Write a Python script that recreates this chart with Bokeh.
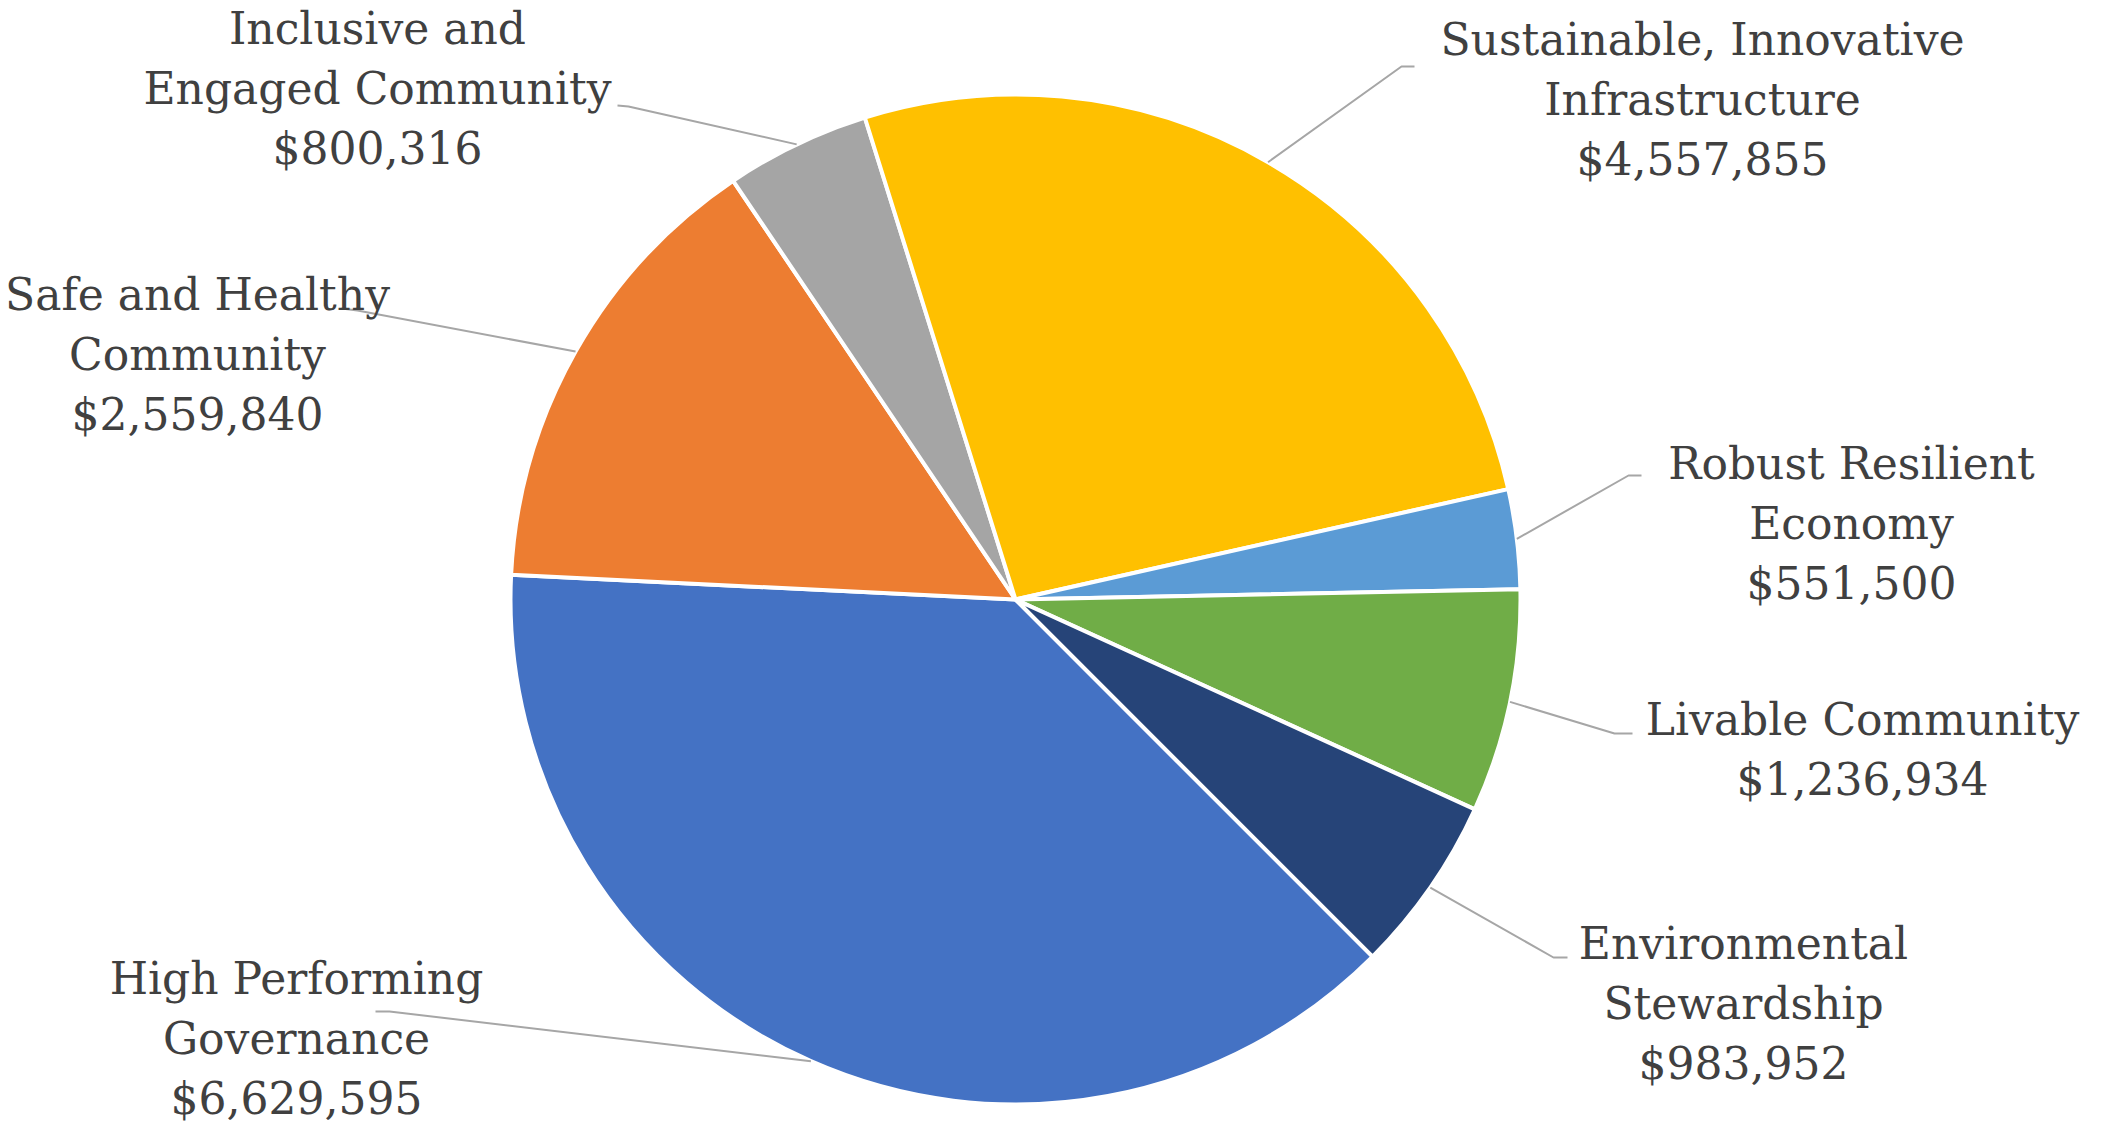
import math
from bokeh.plotting import figure
from bokeh.models import Range1d, ColumnDataSource
from bokeh.core.properties import value
from bokeh.embed import file_html
from bokeh.resources import INLINE

# ---- data ----
categories = ["High Performing Governance", "Safe and Healthy Community",
              "Inclusive and Engaged Community", "Sustainable, Innovative Infrastructure",
              "Robust Resilient Economy", "Livable Community", "Environmental Stewardship"]
amounts = [6629595, 2559840, 800316, 4557855, 551500, 1236934, 983952]
label_lines = [["High Performing", "Governance"],
               ["Safe and Healthy", "Community"],
               ["Inclusive and", "Engaged Community"],
               ["Sustainable, Innovative", "Infrastructure"],
               ["Robust Resilient", "Economy"],
               ["Livable Community"],
               ["Environmental", "Stewardship"]]
colors = ["#4472C4", "#ED7D31", "#A5A5A5", "#FFC000", "#5B9BD5", "#70AD47", "#264478"]

# ---- layout (screen pixels of the page) ----
W, H = 2113, 1143
CX, CY, R = 1023, 607, 505
FIRST_ANGLE = 135.0  # degrees, clockwise from 12 o'clock
label_pos = [(304, 1046), (205, 362), (385, 96), (1710, 107), (1859, 531), (1870, 757), (1751, 1011)]
stub = [((383, 1019), (397, 1019)), ((349, 316), (365, 318)), ((625, 113), (636, 114)),
        ((1422, 74), (1409, 74)), ((1649, 483), (1636, 483)), ((1640, 741), (1622, 741)),
        ((1575, 965), (1561, 965))]

def fy(y):
    return H - y

p = figure(width=W - 16, height=H - 16, output_backend="svg", toolbar_location=None,
           x_range=Range1d(8, W - 8), y_range=Range1d(8, H - 8), min_border=0)
p.axis.visible = False
p.grid.visible = False
p.outline_line_color = None
p.background_fill_color = "white"

total = float(sum(amounts))
starts, ends, mids = [], [], []
cum = 0.0
for a in amounts:
    t1 = FIRST_ANGLE + 360.0 * cum / total
    t2 = FIRST_ANGLE + 360.0 * (cum + a) / total
    cum += a
    starts.append(math.radians(90 - t2))
    ends.append(math.radians(90 - t1))
    mids.append((t1 + t2) / 2)

src = ColumnDataSource(dict(x=[CX] * len(amounts), y=[fy(CY)] * len(amounts),
                            start=starts, end=ends, color=colors, name=categories))
p.wedge(x="x", y="y", radius=R, start_angle="start", end_angle="end", direction="anticlock",
        fill_color="color", line_color="white", line_width=4, source=src)

# leader lines
xs, ys = [], []
for i, tm in enumerate(mids):
    px = CX + R * math.sin(math.radians(tm))
    py = fy(CY) + R * math.cos(math.radians(tm))
    (ax, ay), (bx, by) = stub[i]
    xs.append([ax, bx, px])
    ys.append([fy(ay), fy(by), py])
p.multi_line(xs, ys, line_color="#A6A6A6", line_width=2)

# labels
texts = []
for i in range(len(amounts)):
    texts.append("\n".join(label_lines[i] + ["${:,}".format(amounts[i])]))
lsrc = ColumnDataSource(dict(x=[lp[0] for lp in label_pos], y=[fy(lp[1]) for lp in label_pos], t=texts))
p.text(x="x", y="y", text="t", source=lsrc, text_align="center", text_baseline="middle",
       text_font=value("DejaVu Serif"), text_font_size="44px", text_color="#404040",
       text_line_height=1.17)

open("out.html", "w").write(file_html(p, INLINE))
